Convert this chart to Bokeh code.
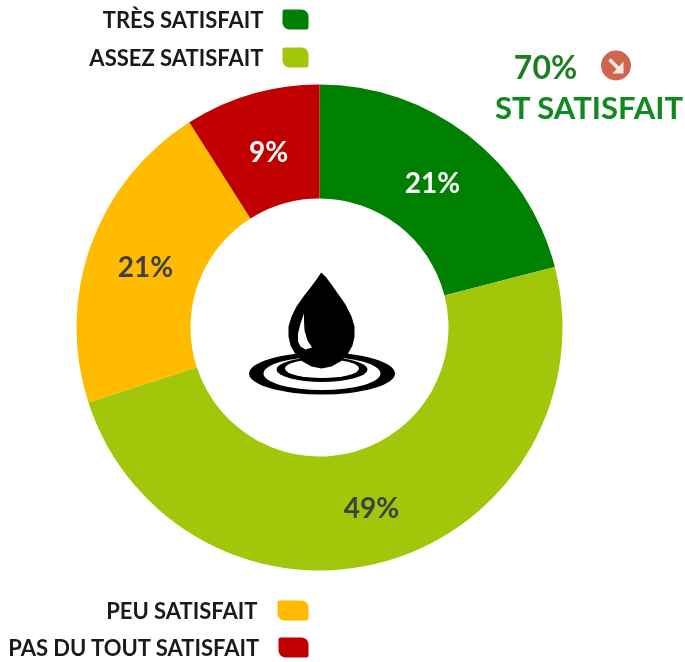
import math
from bokeh.embed import file_html
from bokeh.resources import INLINE
from bokeh.plotting import figure
from bokeh.models import Range1d
from bokeh.core.properties import value

categories = ["TRÈS SATISFAIT", "ASSEZ SATISFAIT", "PEU SATISFAIT", "PAS DU TOUT SATISFAIT"]
shares = [21, 49, 21, 9]
share_labels = ["21%", "49%", "21%", "9%"]
colors = ["#008000", "#A2C70A", "#FFBB00", "#C00000"]
label_colors = ["#FFFFFF", "#404040", "#404040", "#FFFFFF"]
headline = "70%"
headline_sub = "ST SATISFAIT"

W, H = 685, 662
FONT = "Lato"
cx, cy = 319, H - 327
R_OUT, R_IN = 243, 129

p = figure(width=W, height=H, output_backend="svg", toolbar_location=None,
           x_range=Range1d(0, W), y_range=Range1d(0, H), min_border=0,
           outline_line_color=None, background_fill_color="#FFFFFF",
           styles={"position": "fixed", "left": "0px", "top": "0px"})
p.axis.visible = False
p.grid.visible = False

total = sum(shares)
starts, ends, a = [], [], math.pi / 2
for s in shares:
    starts.append(a)
    a -= 2 * math.pi * s / total
    ends.append(a)
p.annular_wedge(x=cx, y=cy, inner_radius=R_IN, outer_radius=R_OUT,
                start_angle=ends, end_angle=starts,
                fill_color=colors, line_color=None)

# percent labels
lab_pos = [(432, 181), (371, 506), (145, 265), (268, 150)]
p.text(x=[q[0] for q in lab_pos], y=[H - q[1] for q in lab_pos], text=share_labels,
       text_color=label_colors, text_font=value(FONT), text_font_style="bold",
       text_font_size="28px", text_align="center", text_baseline="middle")

# legend
legend_y = [19, 57, 610, 647]
legend_right = [263, 263, 257, 260]
sw_left = [282, 282, 277, 278]
p.text(x=legend_right, y=[H - y for y in legend_y], text=categories,
       text_color="#1A1A1A", text_font=value(FONT), text_font_style="bold",
       text_font_size="22px", text_align="right", text_baseline="middle")
p.quad(left=sw_left, right=[308] * 4, top=[H - y + 10 for y in legend_y],
       bottom=[H - y - 10 for y in legend_y], fill_color=colors, line_color=None,
       border_radius=(2, 7, 2, 7))

# headline
p.text(x=[545], y=[H - 66], text=[headline], text_color="#1E7F1E",
       text_font=value(FONT), text_font_style="bold", text_font_size="32px",
       text_align="center", text_baseline="middle")
p.text(x=[589], y=[H - 106], text=[headline_sub], text_color="#0F8A1E",
       text_font=value(FONT), text_font_style="bold", text_font_size="31px",
       text_align="center", text_baseline="middle")

# trend badge
p.circle(x=[615.5], y=[H - 65], radius=15, fill_color="#D0654F", line_color=None)
p.line(x=[609, 619], y=[H - 59, H - 69], line_color="#FBE9E4", line_width=3.5)
p.patch(x=[623, 623, 612], y=[H - 73, H - 61, H - 73], fill_color="#FBE9E4", line_color=None)

# water drop icon
p.ellipse(x=[321.5], y=[H - 373], width=146, height=42, fill_color="#000000", line_color=None)
p.ellipse(x=[321.5], y=[H - 373], width=117, height=33, fill_color="#FFFFFF", line_color=None)
p.ellipse(x=[321.5], y=[H - 369], width=91, height=25, fill_color="#000000", line_color=None)
p.ellipse(x=[321.5], y=[H - 368], width=74, height=19, fill_color="#FFFFFF", line_color=None)

dx = [320.7, 316, 310, 303, 296, 291, 288, 288, 290, 295, 302, 311, 321,
      331, 340, 347, 352, 354, 354, 351, 345, 338, 331, 325]
dy = [272, 279, 287, 296, 306, 316, 326, 336, 345, 354, 361, 366, 368,
      366, 361, 354, 345, 336, 326, 316, 304, 294, 284, 276]
p.patch(x=dx, y=[H - v for v in dy], fill_color="#000000", line_color=None)
hx = [303.5, 300, 297.5, 297.5, 300, 305, 311.5, 307, 304, 303.5]
hy = [313, 323, 333, 341, 346, 349, 347, 340, 330, 320]
p.patch(x=hx, y=[H - v for v in hy], fill_color="#FFFFFF", line_color=None)

open("out.html", "w").write(file_html(p, INLINE))
